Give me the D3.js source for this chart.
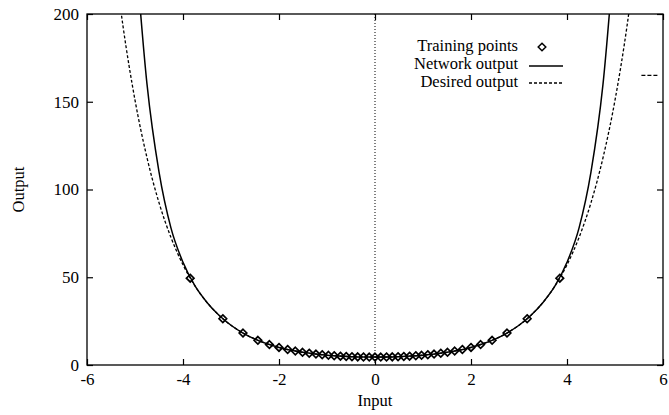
<!DOCTYPE html>
<html><head><meta charset="utf-8">
<script src="https://cdn.jsdelivr.net/npm/d3@7"></script>
<style>
body{margin:0;background:#fff}
svg{display:block}
text{font-family:"Liberation Serif","Times New Roman",serif;fill:#000}
</style>
</head><body>
<svg id="c" width="669" height="415"></svg>
<script>
const xTicks = [-6, -4, -2, 0, 2, 4, 6];
const yTicks = [0, 50, 100, 150, 200];
const curveX = [-5.5,-5.25,-5,-4.75,-4.5,-4.25,-4,-3.75,-3.5,-3.25,-3,-2.75,-2.5,-2.25,-2,-1.75,-1.5,-1.25,-1,-0.75,-0.5,-0.25,0,
                0.25,0.5,0.75,1,1.25,1.5,1.75,2,2.25,2.5,2.75,3,3.25,3.5,3.75,4,4.25,4.5,4.75,5,5.25,5.5];
const desiredY = [247.2,193.1,150.9,118.1,92.5,72.6,57.1,45.04,35.65,28.33,22.64,18.21,14.76,12.09,10.02,8.43,7.20,6.28,5.59,5.09,4.76,4.56,4.5,
                  4.56,4.76,5.09,5.59,6.28,7.20,8.43,10.02,12.09,14.76,18.21,22.64,28.33,35.65,45.04,57.1,72.6,92.5,118.1,150.9,193.1,247.2];
const networkY = [440,330,240,160,110,78,58.5,45.04,35.65,28.33,22.64,18.21,14.76,12.09,10.02,8.43,7.20,6.28,5.59,5.09,4.76,4.56,4.5,
                  4.56,4.76,5.09,5.59,6.28,7.20,8.43,10.02,12.09,14.76,18.21,22.64,28.33,35.65,45.04,58.5,78,110,160,240,330,440];
const trainX = [-3.85,-3.17,-2.75,-2.44,-2.20,-2.00,-1.82,-1.66,-1.51,-1.37,-1.23,-1.10,-0.97,-0.85,-0.72,-0.60,-0.48,-0.36,-0.24,-0.12,0,
                0.12,0.24,0.36,0.48,0.60,0.72,0.85,0.97,1.10,1.23,1.37,1.51,1.66,1.82,2.00,2.20,2.44,2.75,3.17,3.85];
const trainY = [49.5,26.35,18.2,14.06,11.64,10.02,8.83,7.95,7.25,6.69,6.21,5.84,5.52,5.27,5.04,4.87,4.73,4.63,4.56,4.51,4.5,
                4.51,4.56,4.63,4.73,4.87,5.04,5.27,5.52,5.84,6.21,6.69,7.25,7.95,8.83,10.02,11.64,14.06,18.2,26.35,49.5];
const legendLabels = ["Training points", "Network output", "Desired output"];
const strayX = [5.55, 5.92];
const strayY = [165, 165];

const svg = d3.select("#c");
const L = 87, R = 663, T = 14, B = 365;
const x = d3.scaleLinear().domain([-6, 6]).range([L, R]);
const y = d3.scaleLinear().domain([0, 200]).range([B, T]);
const fs = "16.5px";
const tfs = "17px";
const ff = "Liberation Serif";

svg.append("defs").append("clipPath").attr("id", "clip")
  .append("rect").attr("x", L).attr("y", T).attr("width", R - L).attr("height", B - T);

// zero axis
svg.append("line").attr("x1", x(0)).attr("x2", x(0)).attr("y1", T).attr("y2", B)
  .attr("stroke", "#000").attr("stroke-width", 1).attr("stroke-dasharray", "1,2");

// axes with inward ticks
const tk = 6;
const fmt = d => String(d);
const gB = svg.append("g").attr("transform", `translate(0,${B})`)
  .call(d3.axisBottom(x).tickValues(xTicks).tickSize(-tk).tickPadding(8).tickFormat(fmt));
const gT = svg.append("g").attr("transform", `translate(0,${T})`)
  .call(d3.axisTop(x).tickValues(xTicks).tickSize(-tk).tickFormat(""));
const gL = svg.append("g").attr("transform", `translate(${L},0)`)
  .call(d3.axisLeft(y).tickValues(yTicks).tickSize(-tk).tickPadding(8).tickFormat(fmt));
const gR = svg.append("g").attr("transform", `translate(${R},0)`)
  .call(d3.axisRight(y).tickValues(yTicks).tickSize(-tk).tickFormat(""));
[gB, gT, gL, gR].forEach(g => {
  g.attr("font-family", ff).attr("font-size", tfs);
  g.select(".domain").remove();
  g.selectAll("line").attr("stroke", "#000").attr("stroke-width", 1.2);
  g.selectAll("text").attr("font-family", ff).attr("font-size", tfs)
    .style("font-family", ff).style("font-size", tfs).attr("fill", "#000");
});
gB.selectAll("text").attr("dy", "0.7em");

// frame
svg.append("rect").attr("x", L).attr("y", T).attr("width", R - L).attr("height", B - T)
  .attr("fill", "none").attr("stroke", "#000").attr("stroke-width", 1.3);

// curves
const plot = svg.append("g").attr("clip-path", "url(#clip)");
const line = d3.line().x(d => x(d[0])).y(d => y(d[1])).curve(d3.curveMonotoneX);
plot.append("path").datum(curveX.map((v, i) => [v, desiredY[i]]))
  .attr("d", line).attr("fill", "none").attr("stroke", "#000").attr("stroke-width", 1.3)
  .attr("stroke-dasharray", "3,2");
plot.append("path").datum(curveX.map((v, i) => [v, networkY[i]]))
  .attr("d", line).attr("fill", "none").attr("stroke", "#000").attr("stroke-width", 1.5);

// training points
const diamond = "M0,-3.8L3.8,0L0,3.8L-3.8,0Z";
plot.selectAll(".pt").data(trainX.map((v, i) => [v, trainY[i]])).enter().append("path")
  .attr("class", "pt").attr("d", diamond)
  .attr("transform", d => `translate(${x(d[0])},${y(d[1])})`)
  .attr("fill", "none").attr("stroke", "#000").attr("stroke-width", 1.7);

// stray dash
svg.append("line").attr("x1", x(strayX[0])).attr("x2", x(strayX[1]))
  .attr("y1", y(strayY[0])).attr("y2", y(strayY[1]))
  .attr("stroke", "#000").attr("stroke-width", 1.2).attr("stroke-dasharray", "4,2");

// legend
const lg = svg.append("g");
const rowY = [46, 64, 82];
legendLabels.forEach((t, i) => {
  lg.append("text").attr("x", 518).attr("y", rowY[i]).attr("dy", "0.32em")
    .attr("text-anchor", "end").attr("font-family", ff).style("font-size", fs).text(t);
});
lg.append("path").attr("d", diamond).attr("transform", `translate(542,${rowY[0] + 1})`)
  .attr("fill", "none").attr("stroke", "#000").attr("stroke-width", 1.5);
lg.append("line").attr("x1", 529).attr("x2", 563).attr("y1", rowY[1] + 2).attr("y2", rowY[1] + 2)
  .attr("stroke", "#000").attr("stroke-width", 1.5);
lg.append("line").attr("x1", 529).attr("x2", 563).attr("y1", rowY[2] + 1).attr("y2", rowY[2] + 1)
  .attr("stroke", "#000").attr("stroke-width", 1.3).attr("stroke-dasharray", "3,2");

// axis titles
svg.append("text").attr("x", x(0)).attr("y", 406).attr("text-anchor", "middle")
  .attr("font-family", ff).style("font-size", fs).text("Input");
svg.append("text").attr("transform", `translate(18,${y(100)}) rotate(-90)`)
  .attr("text-anchor", "middle").attr("dy", "0.35em").attr("font-family", ff).style("font-size", fs).text("Output");
</script>
</body></html>
